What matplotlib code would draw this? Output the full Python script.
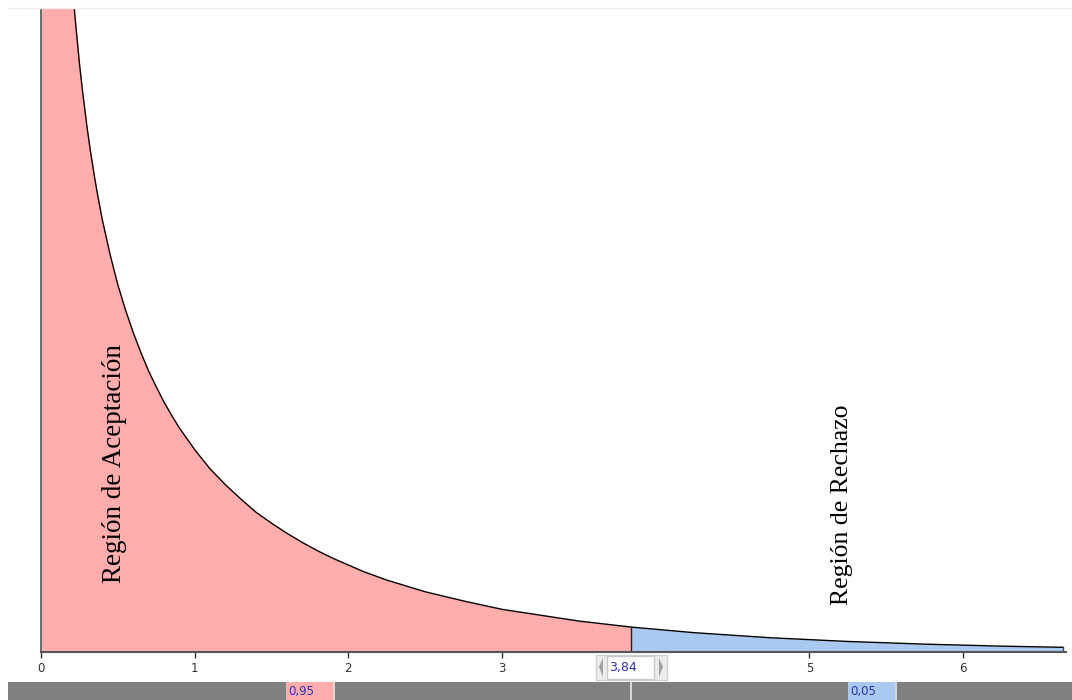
import matplotlib.pyplot as plt
from matplotlib.patches import Rectangle, Polygon

# densidad chi-cuadrado (1 g.l.)
x_vals = [0.20, 0.22, 0.25, 0.27, 0.30, 0.32, 0.35, 0.37, 0.40, 0.45, 0.50, 0.55,
          0.60, 0.65, 0.70, 0.75, 0.80, 0.85, 0.90, 0.95, 1.00, 1.10, 1.20, 1.30,
          1.40, 1.50, 1.60, 1.70, 1.80, 1.90, 2.00, 2.10, 2.25, 2.50, 2.75, 3.00,
          3.25, 3.50, 3.84, 4.25, 4.75, 5.25, 5.75, 6.25, 6.65]
y_vals = [0.807, 0.762, 0.704, 0.671, 0.627, 0.601, 0.566, 0.545, 0.516, 0.475, 0.439, 0.409,
          0.382, 0.358, 0.336, 0.317, 0.299, 0.283, 0.268, 0.255, 0.242, 0.219, 0.200, 0.183,
          0.167, 0.154, 0.142, 0.131, 0.121, 0.112, 0.104, 0.096, 0.086, 0.072, 0.061, 0.051,
          0.044, 0.037, 0.0298, 0.0231, 0.0170, 0.0126, 0.0094, 0.0070, 0.0056]
critico = 3.84
etiqueta_critico = "3,84"
prob_acept = "0,95"
prob_rech = "0,05"
ticks = [0, 1, 2, 3, 5, 6]

W, H = 1072, 700
fig = plt.figure(figsize=(W / 100, H / 100), dpi=100)
ax = fig.add_axes([41 / W, 48 / H, 1025 / W, 644 / H])

rojo = '#ffadad'
azul = '#a9c9f0'

i_c = x_vals.index(critico)
xa_curve = x_vals[:i_c + 1]
ya_curve = y_vals[:i_c + 1]
xr_curve = x_vals[i_c:]
yr_curve = y_vals[i_c:]

ax.fill_between([0.0] + xa_curve, [y_vals[0]] + ya_curve, 0, color=rojo, lw=0)
ax.fill_between(xr_curve, yr_curve, 0, color=azul, lw=0)
ax.plot(x_vals, y_vals, color='black', lw=1)
ax.plot([critico, critico], [0, y_vals[i_c]], color='#222222', lw=1)
ax.plot([x_vals[-1], x_vals[-1]], [0, y_vals[-1]], color='#444444', lw=1)

ax.set_xlim(0, 6.67)
ax.set_ylim(0, 0.77)
ax.set_yticks([])
ax.set_xticks(ticks)
ax.set_xticklabels([str(t) for t in ticks], fontsize=8.5, color='#333333')
ax.tick_params(axis='x', length=4, width=1, color='#333333', pad=3)
for s in ['top', 'right']:
    ax.spines[s].set_visible(False)
ax.spines['left'].set_color('#555555')
ax.spines['bottom'].set_color('#555555')
ax.spines['left'].set_linewidth(1.2)
ax.spines['bottom'].set_linewidth(1.5)
ax.spines['left'].set_capstyle('butt')

ax.text(0.48, 0.225, "Región de Aceptación", rotation=90, ha='center', va='center',
        fontsize=19.5, family='Liberation Serif', color='black')
ax.text(5.21, 0.176, "Región de Rechazo", rotation=90, ha='center', va='center',
        fontsize=18.5, family='Liberation Serif', color='black')

# línea gris superior
fig.add_artist(plt.Line2D([8 / W, 1], [1 - 8 / H, 1 - 8 / H], color='#eeeeee', lw=1))


def caja(x0, y0, w, h, **kw):
    fig.add_artist(Rectangle((x0 / W, 1 - (y0 + h) / H), w / W, h / H,
                             transform=fig.transFigure, **kw))


# barra inferior
caja(8, 682, W - 8, 18, facecolor='#808080', edgecolor='none')
caja(286, 682, 47, 18, facecolor=rojo, edgecolor='none')
caja(848, 682, 47, 18, facecolor=azul, edgecolor='none')
for xp in [334, 631, 896]:
    fig.add_artist(plt.Line2D([xp / W, xp / W], [0, 18 / H], color='#e8e8e8', lw=1.2))
fig.text(288 / W, 1 - 692 / H, prob_acept, fontsize=8.5, color='#3030a0', va='center')
fig.text(850 / W, 1 - 692 / H, prob_rech, fontsize=8.5, color='#3030a0', va='center')

# control del valor crítico
caja(596, 655, 71, 25, facecolor='#ececec', edgecolor='#d0d0d0', lw=1)
caja(607, 656, 47, 23, facecolor='white', edgecolor='#c8c8c8', lw=1)
fig.add_artist(Polygon([[603 / W, 1 - 658 / H], [599 / W, 1 - 667 / H], [603 / W, 1 - 677 / H]],
                       closed=True, facecolor='#a0a0a0', edgecolor='none', transform=fig.transFigure))
fig.add_artist(Polygon([[659 / W, 1 - 658 / H], [663 / W, 1 - 667 / H], [659 / W, 1 - 677 / H]],
                       closed=True, facecolor='#a0a0a0', edgecolor='none', transform=fig.transFigure))
fig.text(609 / W, 1 - 667 / H, etiqueta_critico, fontsize=9, color='#3030a0', va='center')

fig.savefig('out.png', dpi=100)
